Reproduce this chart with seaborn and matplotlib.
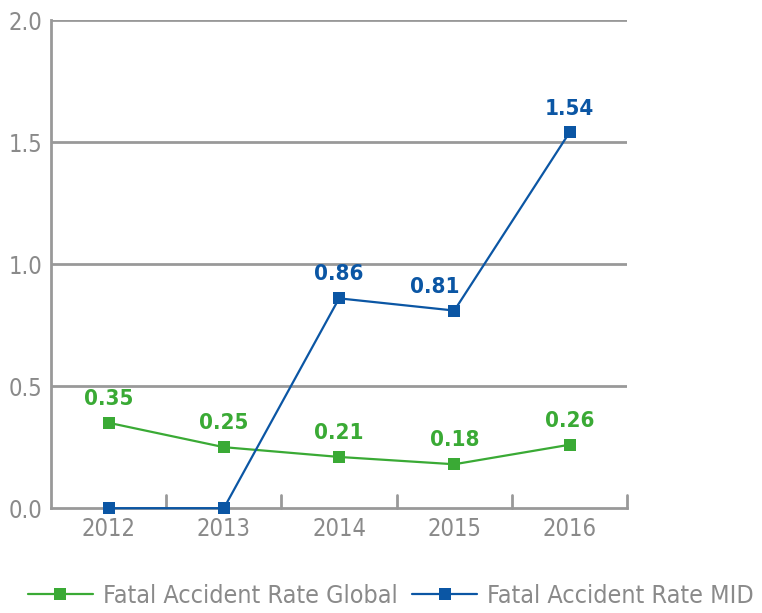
import pandas as pd
import matplotlib.pyplot as plt
import seaborn as sns

# data
years = ['2012', '2013', '2014', '2015', '2016']
rate_global = [0.35, 0.25, 0.21, 0.18, 0.26]
rate_mid = [0.0, 0.0, 0.86, 0.81, 1.54]
series_names = ['Fatal Accident Rate Global', 'Fatal Accident Rate MID']

green = '#3aaa35'
blue = '#0b56a4'
grey = '#999999'
text_grey = '#8a8a8a'

df = pd.DataFrame({
    'year': years * 2,
    'rate': rate_global + rate_mid,
    'series': [series_names[0]] * 5 + [series_names[1]] * 5,
})

sns.set_style('white')
plt.rcParams['font.family'] = ['DejaVu Sans']
plt.rcParams['font.stretch'] = 'condensed'

fig = plt.figure(figsize=(7.62, 6.13), dpi=100)
ax = fig.add_axes([0.067, 0.171, 0.756, 0.796])

sns.lineplot(data=df, x='year', y='rate', hue='series', palette=[green, blue],
             marker='s', markersize=9, markeredgewidth=0, linewidth=1.6,
             sort=False, ax=ax, zorder=3)
for ln in ax.lines:
    ln.set_clip_on(False)

ax.set_xlim(-0.5, 4.5)
ax.set_ylim(0, 2.0)
ax.set_yticks([0, 0.5, 1.0, 1.5, 2.0])
ax.set_yticklabels(['0.0', '0.5', '1.0', '1.5', '2.0'])
for y in [0.5, 1.0, 1.5, 2.0]:
    ax.axhline(y, color=grey, linewidth=2, zorder=0)

ax.set_xlabel('')
ax.set_ylabel('')
for s in ['top', 'right']:
    ax.spines[s].set_visible(False)
for s in ['left', 'bottom']:
    ax.spines[s].set_color(grey)
    ax.spines[s].set_linewidth(2)

# category separator ticks on the baseline
for b in [0.5, 1.5, 2.5, 3.5, 4.5]:
    ax.plot([b, b], [0, 0.055], color=grey, linewidth=2, clip_on=False, zorder=1)

ax.tick_params(axis='both', length=0, labelsize=17, labelcolor=text_grey, pad=6)
ax.tick_params(axis='y', pad=6)

# value labels
for i, v in enumerate(rate_global):
    ax.annotate(f'{v:.2f}', (i, v), xytext=(0, 10), textcoords='offset points',
                ha='center', va='bottom', color=green, fontsize=16, fontweight='bold')
for i, v in enumerate(rate_mid):
    if v > 0:
        dx = -14 if i == 3 else 0
        ax.annotate(f'{v:.2f}', (i, v), xytext=(dx, 10), textcoords='offset points',
                    ha='center', va='bottom', color=blue, fontsize=16, fontweight='bold')

ax.legend(loc='upper center', bbox_to_anchor=(0.59, -0.14), ncol=2, frameon=False,
          fontsize=18, labelcolor=text_grey, handlelength=2.6, columnspacing=0.6,
          handletextpad=0.4, borderaxespad=0, borderpad=0.3)

fig.savefig('out.png', dpi=100)
